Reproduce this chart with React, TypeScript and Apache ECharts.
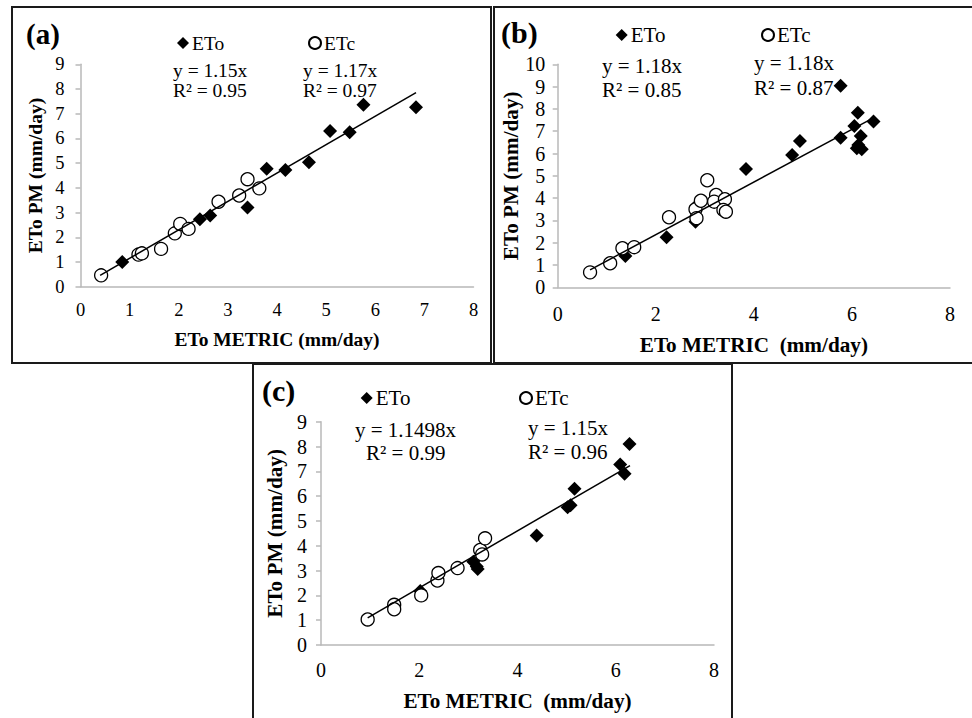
import React, { useEffect, useRef } from "react";
import * as echarts from "echarts";

const FONT = "Liberation Serif, Times New Roman, serif";

// Panel (a)
const aEToX = [0.85, 2.43, 2.64, 3.4, 3.79, 4.17, 4.65, 5.08, 5.48, 5.76, 6.83];
const aEToY = [1.0, 2.73, 2.88, 3.2, 4.77, 4.72, 5.04, 6.3, 6.25, 7.36, 7.26];
const aETcX = [0.42, 1.18, 1.25, 1.64, 1.92, 2.03, 2.2, 2.81, 3.23, 3.4, 3.64];
const aETcY = [0.46, 1.3, 1.35, 1.53, 2.16, 2.54, 2.34, 3.44, 3.69, 4.35, 3.98];

// Panel (b)
const bEToX = [1.38, 2.22, 2.81, 2.88, 3.31, 3.84, 4.78, 4.94, 5.77, 5.77, 6.05, 6.12, 6.18, 6.1, 6.2, 6.13, 6.44];
const bEToY = [1.4, 2.24, 2.94, 3.77, 3.79, 5.3, 5.93, 6.56, 9.04, 6.71, 7.23, 7.83, 6.78, 6.23, 6.19, 6.38, 7.43];
const bETcX = [0.66, 1.07, 1.32, 1.56, 2.27, 2.81, 2.83, 2.92, 3.05, 3.23, 3.19, 3.41, 3.38, 3.43];
const bETcY = [0.67, 1.08, 1.75, 1.8, 3.14, 3.5, 3.1, 3.88, 4.8, 4.14, 3.84, 3.95, 3.47, 3.39];

// Panel (c)
const cEToX = [2.02, 3.1, 3.17, 3.19, 4.39, 5.02, 5.08, 5.16, 6.09, 6.18, 6.28];
const cEToY = [2.18, 3.36, 3.16, 3.06, 4.41, 5.55, 5.63, 6.3, 7.27, 6.9, 8.1];
const cETcX = [0.95, 1.49, 1.49, 2.04, 2.37, 2.39, 2.78, 3.24, 3.28, 3.34];
const cETcY = [1.03, 1.62, 1.44, 2.0, 2.6, 2.9, 3.1, 3.83, 3.65, 4.3];

// Trend lines
const slopes = [1.15, 1.18, 1.15];
const trendStart = [0.4, 0.66, 0.95];
const trendEnd = [6.83, 6.4, 6.29];

// Texts
const panelLabels = ["(a)", "(b)", "(c)"];
const eqETo = ["y = 1.15x", "y = 1.18x", "y = 1.1498x"];
const r2ETo = ["R\u00b2 = 0.95", "R\u00b2 = 0.85", "R\u00b2 = 0.99"];
const eqETc = ["y = 1.17x", "y = 1.18x", "y = 1.15x"];
const r2ETc = ["R\u00b2 = 0.97", "R\u00b2 = 0.87", "R\u00b2 = 0.96"];
const xTitles = ["ETo METRIC (mm/day)", "ETo METRIC  (mm/day)", "ETo METRIC  (mm/day)"];
const yTitle = "ETo PM (mm/day)";
const yMax = [9, 10, 9];
const xInterval = [1, 2, 2];

const zip = (xs: number[], ys: number[]) => xs.map((x, i) => [x, ys[i]]);

export default function App() {
  const ref = useRef<HTMLDivElement>(null);
  useEffect(() => {
    if (!ref.current) return;
    const chart = echarts.init(ref.current, null, { renderer: "svg" });

    const grids = [
      { left: 80.5, top: 64.3, width: 393, height: 222.4 },
      { left: 557.7, top: 64.3, width: 392.3, height: 223 },
      { left: 321, top: 421.7, width: 393, height: 223.3 },
    ];
    const tickFs = [18.5, 20, 20];
    const titleFs = [19.5, 21.2, 21.2];
    const xLabelMargin = [14, 17, 15];
    const yLabelMargin = [16, 12.5, 14];
    const xNameGap = [43, 47, 45.5];
    const yNameGap = [35, 35, 35.5];
    const axisGray = "#b8b8b8";

    const labelStyle = (fs: number, margin: number) => ({
      color: "#000",
      fontFamily: FONT,
      fontSize: fs,
      margin,
      formatter: "{t|{value}}",
      rich: { t: { fontFamily: FONT, fontSize: fs, color: "#000" } },
    });

    const xAxes = grids.map((_, i) => ({
      type: "value",
      gridIndex: i,
      min: 0,
      max: 8,
      interval: xInterval[i],
      axisLine: { show: true, lineStyle: { color: axisGray, width: 1.5 } },
      axisTick: { show: false },
      splitLine: { show: false },
      axisLabel: labelStyle(tickFs[i], xLabelMargin[i]),
      name: xTitles[i],
      nameLocation: "middle",
      nameGap: xNameGap[i],
      nameTextStyle: { color: "#000", fontFamily: FONT, fontWeight: "bold", fontSize: titleFs[i] },
    }));
    const yAxes = grids.map((_, i) => ({
      type: "value",
      gridIndex: i,
      min: 0,
      max: yMax[i],
      interval: 1,
      axisLine: { show: true, lineStyle: { color: axisGray, width: 1.5 } },
      axisTick: { show: true, length: 5, lineStyle: { color: axisGray, width: 1.5 } },
      splitLine: { show: false },
      axisLabel: labelStyle(tickFs[i], yLabelMargin[i]),
      name: yTitle,
      nameLocation: "middle",
      nameGap: yNameGap[i],
      nameRotate: 90,
      nameTextStyle: { color: "#000", fontFamily: FONT, fontWeight: "bold", fontSize: titleFs[i] },
    }));

    const eToData = [zip(aEToX, aEToY), zip(bEToX, bEToY), zip(cEToX, cEToY)];
    const eTcData = [zip(aETcX, aETcY), zip(bETcX, bETcY), zip(cETcX, cETcY)];

    const series: any[] = [];
    grids.forEach((_, i) => {
      series.push({
        name: "ETo",
        type: "scatter",
        xAxisIndex: i,
        yAxisIndex: i,
        symbol: "diamond",
        symbolSize: 14,
        itemStyle: { color: "#000", opacity: 1 },
        data: eToData[i],
        z: 2,
      });
      series.push({
        name: "ETc",
        type: "scatter",
        xAxisIndex: i,
        yAxisIndex: i,
        symbol: "circle",
        symbolSize: 13,
        itemStyle: { color: "#fff", borderColor: "#000", borderWidth: 1.3, opacity: 1 },
        data: eTcData[i],
        z: 3,
      });
      series.push({
        name: "trend" + i,
        type: "line",
        xAxisIndex: i,
        yAxisIndex: i,
        symbol: "none",
        lineStyle: { color: "#000", width: 1.5 },
        data: [
          [trendStart[i], slopes[i] * trendStart[i]],
          [trendEnd[i], slopes[i] * trendEnd[i]],
        ],
        z: 4,
      });
    });

    const legendPos = [
      { eto: [177, 33], etc: [308, 33], fs: 19.5 },
      { eto: [615.7, 24.5], etc: [761, 24.5], fs: 21 },
      { eto: [360.7, 387.5], etc: [519, 387.5], fs: 21 },
    ];
    const legends: any[] = [];
    legendPos.forEach((p) => {
      ["ETo", "ETc"].forEach((nm, k) => {
        const pos = k === 0 ? p.eto : p.etc;
        legends.push({
          data: [nm],
          left: pos[0],
          top: pos[1],
          itemWidth: 12,
          itemHeight: 12,
          itemGap: 0,
          padding: 0,
          selectedMode: false,
          itemStyle: { opacity: 1 },
          textStyle: { color: "#000", fontFamily: FONT, fontSize: p.fs, padding: [0, 0, 0, -2] },
        });
      });
    });

    const txt = (text: string, x: number, y: number, fs: number, bold = false) => ({
      type: "text",
      x,
      y,
      style: {
        text,
        fill: "#000",
        font: `${bold ? "bold " : ""}${fs}px ${FONT}`,
        align: "left",
        verticalAlign: "middle",
      },
      z: 10,
    });

    const annPos = [
      { eto: [173, 70, 173, 90], etc: [303, 70, 303, 90], fs: 19.5 },
      { eto: [602, 66, 602, 90], etc: [754, 63, 754, 88], fs: 21 },
      { eto: [355, 430, 366, 453], etc: [528, 428, 528, 452], fs: 21 },
    ];
    const labelPos = [
      [26, 34, 29],
      [501, 32, 30],
      [262, 390, 30],
    ];

    const graphic: any[] = [
      {
        type: "rect",
        shape: { x: 12, y: 7, width: 479, height: 356 },
        style: { fill: "none", stroke: "#1a1a1a", lineWidth: 2 },
      },
      {
        type: "rect",
        shape: { x: 494, y: 7, width: 500, height: 356 },
        style: { fill: "none", stroke: "#1a1a1a", lineWidth: 2 },
      },
      {
        type: "rect",
        shape: { x: 253, y: 364, width: 479, height: 380 },
        style: { fill: "none", stroke: "#1a1a1a", lineWidth: 2 },
      },
    ];
    annPos.forEach((p, i) => {
      graphic.push(txt(eqETo[i], p.eto[0], p.eto[1], p.fs));
      graphic.push(txt(r2ETo[i], p.eto[2], p.eto[3], p.fs));
      graphic.push(txt(eqETc[i], p.etc[0], p.etc[1], p.fs));
      graphic.push(txt(r2ETc[i], p.etc[2], p.etc[3], p.fs));
      graphic.push(txt(panelLabels[i], labelPos[i][0], labelPos[i][1], labelPos[i][2], true));
    });

    chart.setOption({
      animation: false,
      backgroundColor: "#fff",
      textStyle: { fontFamily: FONT },
      grid: grids,
      xAxis: xAxes,
      yAxis: yAxes,
      legend: legends,
      series,
      graphic,
    });
    return () => chart.dispose();
  }, []);

  return (
    <div
      ref={ref}
      style={{ position: "absolute", left: 0, top: 0, width: 972, height: 718, background: "#fff" }}
    />
  );
}
